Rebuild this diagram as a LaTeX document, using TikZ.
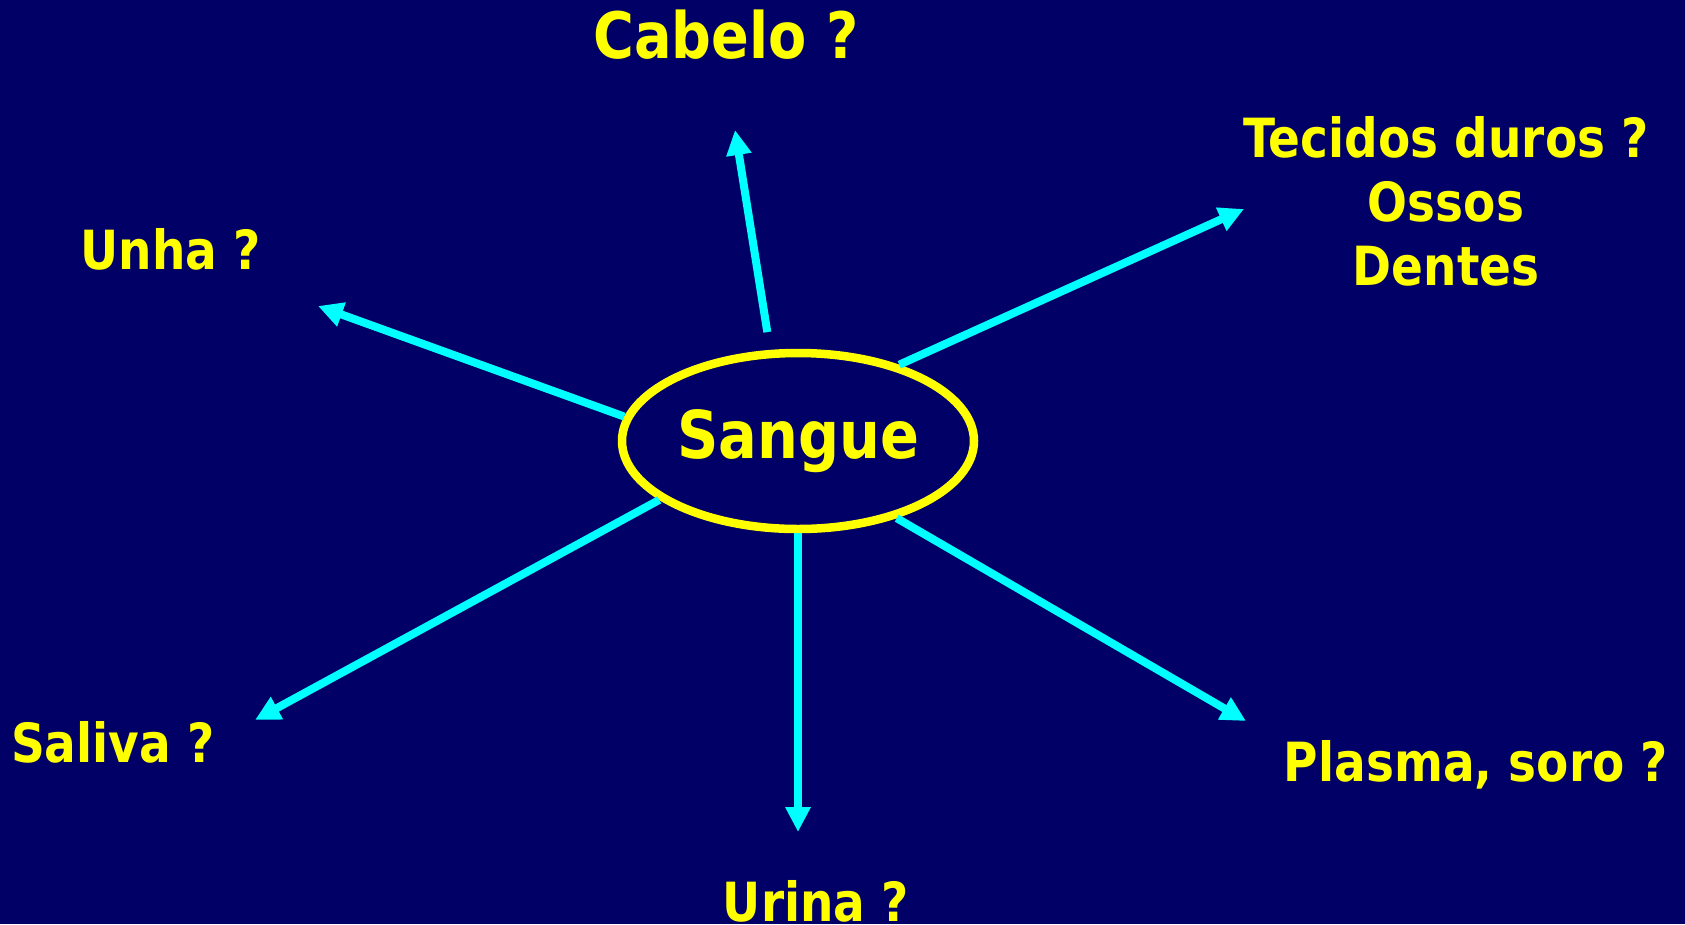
\documentclass[tikz,border=0pt]{standalone}
\usepackage{fontspec}
\setmainfont[FakeStretch=0.87]{DejaVu Sans}
\usetikzlibrary{shapes.geometric,arrows.meta}

\definecolor{fundo}{RGB}{0,0,102}
\definecolor{amarelo}{RGB}{255,255,0}
\definecolor{ciano}{RGB}{0,255,255}

\tikzset{
  rotulo/.style={text=amarelo, anchor=base, align=center, inner sep=0pt,
    font=\bfseries\fontsize{54}{64}\selectfont},
  seta/.style={ciano, line width=8pt, -{Triangle[length=25pt,width=24pt]}}
}

\begin{document}
\begin{tikzpicture}[x=1pt,y=-1pt]
  % Fundo azul
  \fill[fundo] (0,0) rectangle (1685,924);
  \useasboundingbox (0,0) rectangle (1685,924);

  % Elipse central
  \node[ellipse, draw=amarelo, line width=8.5pt, minimum width=352pt, minimum height=176pt,
    inner sep=0pt, text=amarelo, font=\bfseries\fontsize{66}{78}\selectfont] (sangue) at (798,441) {Sangue};

  % Rotulos
  \node[rotulo, font=\bfseries\fontsize{64}{76}\selectfont] (cabelo) at (726,58) {Cabelo ?};
  \node[rotulo] (unha) at (171,269) {Unha ?};
  \node[rotulo] (tecidos) at (1446,285) {Tecidos duros ?\\Ossos\\Dentes};
  \node[rotulo] (saliva) at (113,762) {Saliva ?};
  \node[rotulo] (urina) at (816,921) {Urina ?};
  \node[rotulo] (plasma) at (1476,781) {Plasma, soro ?};

  % Pontas das setas
  \coordinate (pCabelo) at (735,130);
  \coordinate (pUnha) at (318,306);
  \coordinate (pTecidos) at (1244,209);
  \coordinate (pSaliva) at (255,720);
  \coordinate (pUrina) at (798,832);
  \coordinate (pPlasma) at (1246,721);

  % Setas
  \draw[seta, shorten <=18pt] (sangue.107.6) -- (pCabelo);
  \draw[seta] (sangue.172) -- (pUnha);
  \draw[seta] (sangue.37) -- (pTecidos);
  \draw[seta] (sangue.203) -- (pSaliva);
  \draw[seta] (sangue.south) -- (pUrina);
  \draw[seta] (sangue.322) -- (pPlasma);
\end{tikzpicture}
\end{document}
